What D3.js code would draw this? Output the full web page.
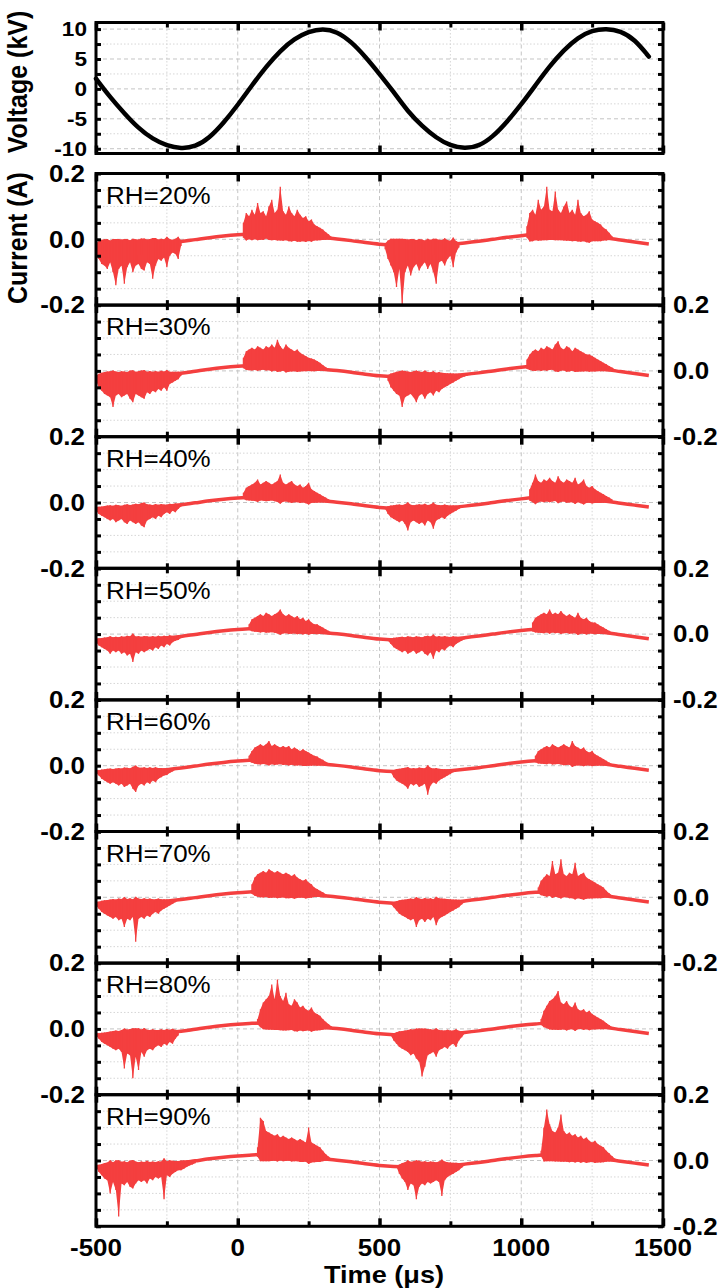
<!DOCTYPE html>
<html>
<head>
<meta charset="utf-8">
<script src="https://d3js.org/d3.v7.min.js"></script>
<style>
body { margin: 0; background: #fff; }
svg { font-family: "Liberation Sans", Arial, sans-serif; }
.tk .domain { display: none; }
.tk line { stroke: #000; }
.major line { stroke-width: 3.5; }
.minor line { stroke-width: 3; }
</style>
</head>
<body>
<svg width="726" height="1288"></svg>
<script>

// time grid (us) for the smooth traces
var baseTimes = [-500,-450,-400,-350,-300,-250,-200,-150,-100,-50,0,50,100,150,200,250,300,350,400,450,
                 500,550,600,650,700,750,800,850,900,950,1000,1050,1100,1150,1200,1250,1300,1350,1400,1450];

// applied voltage (kV)
var voltage = [1.7,-1.4,-4.1,-6.6,-8.4,-9.5,-10.0,-9.7,-8.2,-5.7,-2.7,0.6,3.7,6.4,8.4,9.6,10.1,9.6,7.9,5.4,
               2.5,-0.5,-3.8,-6.2,-8.2,-9.5,-10.0,-9.6,-8.0,-5.5,-2.6,0.6,3.8,6.5,8.6,9.8,10.1,9.7,8.3,5.4];

// capacitive current under the discharge pulses (A)
var baseline = [-0.018,-0.019,-0.019,-0.018,-0.016,-0.012,-0.007,-0.001,0.005,0.010,0.014,0.017,0.018,0.016,0.013,0.009,0.005,0.001,-0.004,-0.010,
                -0.015,-0.018,-0.019,-0.019,-0.018,-0.015,-0.011,-0.006,0.000,0.006,0.011,0.015,0.018,0.016,0.013,0.009,0.004,-0.002,-0.008,-0.014];

var labels = ["RH=20%","RH=30%","RH=40%","RH=50%","RH=60%","RH=70%","RH=80%","RH=90%"];

// pulse bursts: [start time, pulse tips every 10 us (A)]
var rh20 = [
  [-500,[-0.04,-0.06,-0.075,-0.08,-0.09,-0.07,-0.1,-0.14,-0.09,-0.08,-0.135,-0.085,-0.07,-0.1,-0.08,-0.075,-0.09,-0.095,-0.07,-0.075,-0.12,-0.08,-0.06,-0.065,-0.055,-0.085,-0.05,-0.04,-0.045,-0.06,-0.02]],
  [20,[0.05,0.08,0.07,0.09,0.075,0.11,0.08,0.085,0.07,0.1,0.12,0.08,0.09,0.16,0.085,0.075,0.1,0.08,0.07,0.09,0.075,0.065,0.07,0.055,0.06,0.045,0.04,0.035,0.03,0.022,0.015,0.008]],
  [520,[-0.03,-0.06,-0.08,-0.1,-0.145,-0.09,-0.2,-0.1,-0.08,-0.11,-0.085,-0.075,-0.095,-0.08,-0.07,-0.09,-0.075,-0.1,-0.135,-0.07,-0.065,-0.08,-0.06,-0.05,-0.085,-0.04,-0.025]],
  [1020,[0.04,0.08,0.09,0.075,0.12,0.09,0.1,0.16,0.09,0.085,0.145,0.09,0.08,0.1,0.115,0.08,0.09,0.075,0.12,0.08,0.07,0.075,0.085,0.06,0.055,0.05,0.045,0.035,0.03,0.02,0.01]]
];
var rh30 = [
  [-500,[-0.03,-0.05,-0.06,-0.07,-0.075,-0.08,-0.11,-0.075,-0.07,-0.08,-0.075,-0.07,-0.085,-0.095,-0.07,-0.075,-0.08,-0.085,-0.065,-0.07,-0.06,-0.065,-0.055,-0.06,-0.05,-0.06,-0.04,-0.035,-0.03,-0.025,-0.015]],
  [20,[0.04,0.06,0.065,0.07,0.065,0.075,0.07,0.065,0.075,0.07,0.08,0.07,0.095,0.075,0.065,0.08,0.07,0.065,0.06,0.065,0.055,0.05,0.045,0.04,0.038,0.035,0.03,0.025,0.018,0.012,0.006]],
  [530,[-0.03,-0.05,-0.06,-0.07,-0.075,-0.11,-0.08,-0.075,-0.07,-0.08,-0.095,-0.075,-0.07,-0.085,-0.07,-0.065,-0.075,-0.06,-0.065,-0.055,-0.05,-0.045,-0.04,-0.035,-0.03,-0.025,-0.02,-0.017,-0.014]],
  [1020,[0.035,0.05,0.06,0.065,0.06,0.07,0.065,0.075,0.07,0.065,0.08,0.09,0.07,0.065,0.075,0.07,0.06,0.07,0.065,0.06,0.055,0.05,0.05,0.045,0.04,0.035,0.03,0.025,0.02,0.015,0.01,0.005]]
];
var rh40 = [
  [-500,[-0.025,-0.035,-0.04,-0.045,-0.05,-0.055,-0.05,-0.06,-0.055,-0.05,-0.06,-0.065,-0.055,-0.06,-0.065,-0.06,-0.07,-0.075,-0.055,-0.05,-0.045,-0.05,-0.04,-0.045,-0.035,-0.03,-0.035,-0.025,-0.03,-0.02,-0.012]],
  [20,[0.03,0.045,0.05,0.055,0.06,0.07,0.055,0.06,0.065,0.06,0.055,0.06,0.065,0.085,0.06,0.055,0.06,0.065,0.055,0.05,0.055,0.045,0.05,0.06,0.04,0.035,0.03,0.025,0.02,0.015,0.01,0.005]],
  [520,[-0.02,-0.035,-0.045,-0.05,-0.055,-0.06,-0.055,-0.065,-0.085,-0.06,-0.055,-0.06,-0.065,-0.06,-0.07,-0.055,-0.06,-0.08,-0.055,-0.05,-0.045,-0.05,-0.04,-0.035,-0.03,-0.025,-0.02,-0.015]],
  [1030,[0.04,0.06,0.085,0.065,0.06,0.07,0.065,0.075,0.065,0.06,0.08,0.065,0.06,0.07,0.065,0.06,0.075,0.055,0.06,0.07,0.05,0.045,0.05,0.04,0.035,0.03,0.025,0.02,0.015,0.01]]
];
var rh50 = [
  [-500,[-0.025,-0.035,-0.04,-0.045,-0.05,-0.06,-0.05,-0.055,-0.05,-0.06,-0.055,-0.065,-0.06,-0.085,-0.055,-0.06,-0.05,-0.055,-0.05,-0.045,-0.05,-0.04,-0.045,-0.035,-0.04,-0.03,-0.035,-0.025,-0.02,-0.018,-0.012,-0.006]],
  [40,[0.03,0.045,0.05,0.055,0.06,0.055,0.065,0.06,0.055,0.06,0.065,0.075,0.06,0.055,0.06,0.055,0.05,0.055,0.045,0.05,0.04,0.045,0.035,0.03,0.03,0.025,0.02,0.015,0.01,0.005]],
  [530,[-0.02,-0.03,-0.04,-0.045,-0.05,-0.055,-0.05,-0.06,-0.055,-0.05,-0.06,-0.055,-0.05,-0.06,-0.065,-0.055,-0.075,-0.05,-0.055,-0.045,-0.05,-0.04,-0.035,-0.04,-0.03,-0.025,-0.02,-0.016,-0.012]],
  [1040,[0.035,0.05,0.055,0.06,0.065,0.06,0.075,0.06,0.065,0.06,0.07,0.06,0.055,0.06,0.055,0.05,0.065,0.05,0.045,0.05,0.04,0.035,0.035,0.03,0.025,0.02,0.015,0.01,0.005]]
];
var rh60 = [
  [-500,[-0.022,-0.03,-0.04,-0.045,-0.05,-0.055,-0.05,-0.055,-0.06,-0.055,-0.065,-0.06,-0.055,-0.07,-0.08,-0.06,-0.055,-0.06,-0.05,-0.055,-0.045,-0.05,-0.04,-0.035,-0.03,-0.028,-0.022,-0.018,-0.012,-0.008]],
  [40,[0.03,0.045,0.055,0.06,0.065,0.06,0.065,0.075,0.06,0.065,0.06,0.055,0.06,0.055,0.06,0.05,0.055,0.05,0.045,0.05,0.045,0.04,0.035,0.03,0.028,0.022,0.018,0.012,0.008,0.004]],
  [540,[-0.02,-0.035,-0.045,-0.05,-0.055,-0.06,-0.07,-0.055,-0.06,-0.055,-0.065,-0.06,-0.055,-0.088,-0.06,-0.05,-0.055,-0.045,-0.04,-0.035,-0.03,-0.025,-0.02,-0.015]],
  [1050,[0.03,0.045,0.05,0.055,0.06,0.055,0.065,0.06,0.055,0.06,0.065,0.06,0.055,0.075,0.06,0.055,0.05,0.055,0.045,0.04,0.045,0.035,0.03,0.025,0.02,0.015,0.01,0.005]]
];
var rh70 = [
  [-500,[-0.025,-0.035,-0.045,-0.05,-0.055,-0.06,-0.065,-0.06,-0.07,-0.065,-0.09,-0.065,-0.07,-0.06,-0.135,-0.065,-0.06,-0.065,-0.055,-0.06,-0.05,-0.045,-0.05,-0.04,-0.035,-0.03,-0.025,-0.02,-0.015,-0.01]],
  [50,[0.04,0.06,0.07,0.075,0.08,0.075,0.085,0.08,0.075,0.08,0.075,0.07,0.075,0.07,0.065,0.07,0.06,0.055,0.05,0.055,0.045,0.04,0.03,0.025,0.02,0.015,0.01,0.005]],
  [540,[-0.02,-0.03,-0.04,-0.05,-0.055,-0.06,-0.065,-0.07,-0.065,-0.09,-0.07,-0.065,-0.075,-0.065,-0.07,-0.06,-0.085,-0.065,-0.06,-0.055,-0.05,-0.045,-0.04,-0.035,-0.03,-0.022,-0.015]],
  [1060,[0.03,0.05,0.06,0.07,0.065,0.11,0.07,0.075,0.116,0.07,0.065,0.075,0.07,0.105,0.065,0.07,0.075,0.06,0.055,0.05,0.045,0.04,0.035,0.03,0.02,0.012,0.006]]
];
var rh80 = [
  [-500,[-0.02,-0.03,-0.04,-0.045,-0.05,-0.055,-0.06,-0.065,-0.06,-0.07,-0.12,-0.075,-0.08,-0.15,-0.085,-0.125,-0.07,-0.085,-0.065,-0.06,-0.065,-0.055,-0.05,-0.055,-0.045,-0.05,-0.04,-0.045,-0.03,-0.02]],
  [70,[0.03,0.06,0.08,0.09,0.1,0.135,0.09,0.15,0.1,0.085,0.11,0.075,0.07,0.09,0.08,0.065,0.07,0.06,0.055,0.065,0.05,0.045,0.04,0.03,0.022,0.015,0.008]],
  [540,[-0.02,-0.035,-0.045,-0.055,-0.06,-0.065,-0.07,-0.08,-0.075,-0.09,-0.1,-0.145,-0.115,-0.08,-0.075,-0.07,-0.085,-0.065,-0.06,-0.055,-0.06,-0.05,-0.045,-0.055,-0.035,-0.025,-0.015]],
  [1070,[0.03,0.055,0.07,0.085,0.09,0.1,0.115,0.08,0.075,0.085,0.07,0.065,0.08,0.06,0.055,0.06,0.05,0.055,0.045,0.04,0.035,0.03,0.025,0.018,0.012,0.006]]
];
var rh90 = [
  [-500,[-0.02,-0.035,-0.045,-0.055,-0.06,-0.1,-0.065,-0.09,-0.17,-0.07,-0.075,-0.065,-0.08,-0.085,-0.07,-0.06,-0.065,-0.06,-0.07,-0.055,-0.06,-0.05,-0.055,-0.05,-0.118,-0.045,-0.05,-0.04,-0.035,-0.03,-0.03,-0.025,-0.02,-0.015,-0.012,-0.008]],
  [70,[0.04,0.13,0.12,0.09,0.085,0.08,0.075,0.08,0.07,0.075,0.07,0.065,0.07,0.065,0.06,0.065,0.06,0.055,0.1,0.055,0.05,0.045,0.04,0.03,0.02,0.012,0.006]],
  [560,[-0.02,-0.04,-0.055,-0.065,-0.09,-0.07,-0.075,-0.118,-0.08,-0.07,-0.075,-0.065,-0.07,-0.065,-0.06,-0.065,-0.108,-0.06,-0.05,-0.045,-0.04,-0.035,-0.03,-0.022,-0.015]],
  [1070,[0.03,0.1,0.155,0.11,0.09,0.085,0.1,0.14,0.09,0.08,0.085,0.075,0.08,0.07,0.075,0.065,0.07,0.06,0.055,0.06,0.05,0.045,0.04,0.03,0.022,0.014,0.006]]
];
var panels = [rh20, rh30, rh40, rh50, rh60, rh70, rh80, rh90];

var xTicks = [-500, 0, 500, 1000, 1500];
var xMinorTicks = [-250, 250, 750, 1250];
var vTicks = [-10, -5, 0, 5, 10];
var vMinorTicks = [-7.5, -2.5, 2.5, 7.5];
var iTicks = [-0.2, 0.0, 0.2];
var iMinorTicks = [-0.15, -0.1, -0.05, 0.05, 0.1, 0.15];

var svg = d3.select("svg");
var left = 96, right = 663;
var red = "#f43f3f";
var sx = 1.13;   // figure is a bit wider than tall

var x = d3.scaleLinear().domain([-500, 1500]).range([left, right]);
var base = d3.scaleLinear().domain(baseTimes).range(baseline);

function label(txt, px, py, anchor, size, weight) {
  svg.append("text")
    .attr("transform", "translate(" + px + "," + py + ") scale(" + sx + ",1)")
    .attr("text-anchor", anchor)
    .attr("dy", "0.36em")
    .style("font-size", size + "px")
    .style("font-weight", weight)
    .text(txt);
}

function grid(g, y, yMajor, yMinor) {
  g.selectAll(".vmaj").data([0, 500, 1000]).enter().append("line")
    .attr("x1", x).attr("x2", x).attr("y1", y.range()[0]).attr("y2", y.range()[1])
    .attr("stroke", "#c4c4c4").attr("stroke-dasharray", "4,3");
  g.selectAll(".vmin").data(xMinorTicks).enter().append("line")
    .attr("x1", x).attr("x2", x).attr("y1", y.range()[0]).attr("y2", y.range()[1])
    .attr("stroke", "#d6d6d6").attr("stroke-dasharray", "1.5,2");
  g.selectAll(".hmaj").data(yMajor).enter().append("line")
    .attr("x1", left).attr("x2", right).attr("y1", y).attr("y2", y)
    .attr("stroke", "#c4c4c4").attr("stroke-dasharray", "4,3");
  g.selectAll(".hmin").data(yMinor).enter().append("line")
    .attr("x1", left).attr("x2", right).attr("y1", y).attr("y2", y)
    .attr("stroke", "#d6d6d6").attr("stroke-dasharray", "1.5,2");
}

function frame(g, y, top, bottom, yAll) {
  g.append("rect").attr("x", left).attr("y", top).attr("width", right - left).attr("height", bottom - top)
    .attr("fill", "none").attr("stroke", "#000").attr("stroke-width", 3);
  g.append("g").attr("class", "tk major").attr("transform", "translate(0," + bottom + ")")
    .call(d3.axisBottom(x).tickValues(xTicks).tickSize(-8).tickFormat(""));
  g.append("g").attr("class", "tk minor").attr("transform", "translate(0," + bottom + ")")
    .call(d3.axisBottom(x).tickValues(xMinorTicks).tickSize(-5).tickFormat(""));
  g.append("g").attr("class", "tk major").attr("transform", "translate(0," + top + ")")
    .call(d3.axisTop(x).tickValues(xTicks).tickSize(-8).tickFormat(""));
  g.append("g").attr("class", "tk minor").attr("transform", "translate(0," + top + ")")
    .call(d3.axisTop(x).tickValues(xMinorTicks).tickSize(-5).tickFormat(""));
  g.append("g").attr("class", "tk minor").attr("transform", "translate(" + left + ",0)")
    .call(d3.axisLeft(y).tickValues(yAll).tickSize(-5).tickFormat(""));
  g.append("g").attr("class", "tk minor").attr("transform", "translate(" + right + ",0)")
    .call(d3.axisRight(y).tickValues(yAll).tickSize(-5).tickFormat(""));
}

//Create the voltage panel
var vTop = 22.5, vBottom = 153.5;
var yV = d3.scaleLinear().domain([-10.8, 11.1]).range([vBottom, vTop]);
var gv = svg.append("g");
grid(gv, yV, vTicks, vMinorTicks);
gv.append("path")
  .datum(voltage)
  .attr("fill", "none")
  .attr("stroke", "#000")
  .attr("stroke-width", 4.5)
  .attr("stroke-linecap", "round")
  .attr("d", d3.line()
    .x(function(d, i) { return x(baseTimes[i]); })
    .y(function(d) { return yV(d); })
    .curve(d3.curveBasis));
frame(gv, yV, vTop, vBottom, vTicks.concat(vMinorTicks));
vTicks.forEach(function(v) { label(v, 87, yV(v), "end", 20, "bold"); });

//Create the current panels
var top0 = 173.5, step = 131.6;

function backOf(d) {
  var b0 = base(d.t), amp = d.v - b0;
  var back = Math.min(0.02, Math.abs(amp) * 0.3);
  return b0 - (amp > 0 ? back : -back);
}

panels.forEach(function(bursts, p) {
  var top = top0 + p * step, bottom = top + step;
  var y = d3.scaleLinear().domain([-0.2, 0.2]).range([bottom, top]);
  var g = svg.append("g");

  svg.append("clipPath").attr("id", "clip" + p).append("rect")
    .attr("x", left).attr("y", top).attr("width", right - left).attr("height", step);

  grid(g, y, [0], iMinorTicks);

  var dg = g.append("g").attr("clip-path", "url(#clip" + p + ")");

  // smooth capacitive part
  dg.append("path")
    .datum(baseline)
    .attr("fill", "none")
    .attr("stroke", red)
    .attr("stroke-width", 3.5)
    .attr("d", d3.line()
      .x(function(d, i) { return x(baseTimes[i]); })
      .y(function(d) { return y(d); })
      .curve(d3.curveMonotoneX));

  // discharge pulses
  var tips = [];
  var groups = bursts.map(function(b) {
    return b[1].map(function(v, k) {
      var d = {t: b[0] + 10 * k, v: v};
      tips.push(d);
      return d;
    });
  });

  dg.selectAll(".burst")
    .data(groups)
    .enter().append("path")
      .attr("class", "burst")
      .attr("fill", red)
      .attr("d", d3.area()
        .x(function(d) { return x(d.t); })
        .y0(function(d) { return y(backOf(d)); })
        .y1(function(d) { return y(d.v); }));

  dg.selectAll(".pulse")
    .data(tips)
    .enter().append("line")
      .attr("class", "pulse")
      .attr("x1", function(d) { return x(d.t); })
      .attr("x2", function(d) { return x(d.t); })
      .attr("y1", function(d) { return y(backOf(d)); })
      .attr("y2", function(d) { return y(d.v); })
      .attr("stroke", red)
      .attr("stroke-width", 1.3);

  frame(g, y, top, bottom, iTicks.concat(iMinorTicks));

  label(labels[p], 106, top + 22, "start", 23, "normal");

  iTicks.forEach(function(v) {
    if (p % 2 == 0) label(v.toFixed(1), 85, y(v), "end", 23, "bold");
    else label(v.toFixed(1), 673, y(v), "start", 23, "bold");
  });
});

//Create the x axis labels
var lastBottom = top0 + 8 * step;
xTicks.forEach(function(t) { label(t, x(t), lastBottom + 21, "middle", 23, "bold"); });
label("Time (\u03bcs)", 384, lastBottom + 48, "middle", 24, "bold");

//Create the y axis labels
svg.append("text")
  .attr("transform", "translate(27,82) rotate(-90) scale(1," + sx + ")")
  .attr("text-anchor", "middle")
  .style("font-size", "25px")
  .style("font-weight", "bold")
  .text("Voltage (kV)");

svg.append("text")
  .attr("transform", "translate(27,238) rotate(-90) scale(1," + sx + ")")
  .attr("text-anchor", "middle")
  .style("font-size", "25px")
  .style("font-weight", "bold")
  .text("Current (A)");

</script>
</body>
</html>
